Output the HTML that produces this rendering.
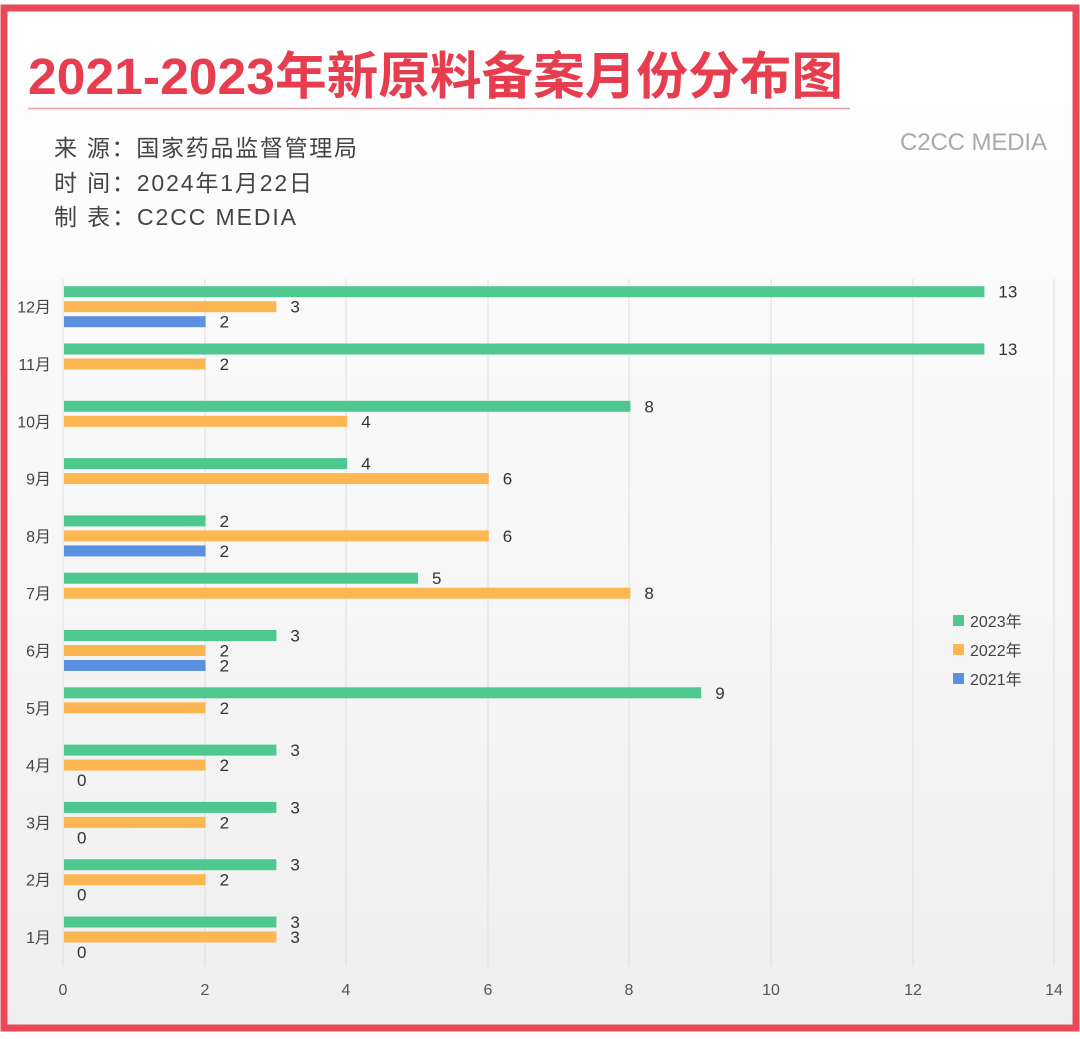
<!DOCTYPE html>
<html><head><meta charset="utf-8"><style>
body{margin:0;width:1080px;height:1039px;background:#fff;overflow:hidden;font-family:"Liberation Sans","Noto Sans CJK SC",sans-serif}
</style></head><body>
<svg width="1080" height="1039" xmlns="http://www.w3.org/2000/svg" style="position:absolute;left:0;top:0">
<defs><linearGradient id="g" x1="0" y1="0" x2="0" y2="1"><stop offset="0" stop-color="#ffffff"/><stop offset="1" stop-color="#efefef"/></linearGradient></defs>
<rect x="4" y="8" width="1072" height="1020" fill="url(#g)" stroke="#e84857" stroke-width="7"/>
<text x="28" y="94" font-size="51" font-weight="bold" fill="#e63e4f" textLength="815" lengthAdjust="spacingAndGlyphs">2021-2023年新原料备案月份分布图</text>
<line x1="28" y1="108.5" x2="850" y2="108.5" stroke="#e9a0a8" stroke-width="1.5"/>
<g font-size="23" fill="#444">
<text x="54" y="156" textLength="303">来  源：国家药品监督管理局</text>
<text x="54" y="191" textLength="258">时  间：2024年1月22日</text>
<text x="54" y="225" textLength="242">制  表：C2CC  MEDIA</text>
</g>
<text x="900" y="150" font-size="24" fill="#aaa" textLength="147">C2CC MEDIA</text>
<g stroke="#dedede" stroke-width="1">
<line x1="63" y1="279" x2="63" y2="966"/><line x1="205" y1="279" x2="205" y2="966"/><line x1="346" y1="279" x2="346" y2="966"/><line x1="488" y1="279" x2="488" y2="966"/><line x1="629" y1="279" x2="629" y2="966"/><line x1="771" y1="279" x2="771" y2="966"/><line x1="913" y1="279" x2="913" y2="966"/><line x1="1054" y1="279" x2="1054" y2="966"/>
</g>
<g font-size="16" fill="#555" text-anchor="middle">
<text x="63" y="995">0</text><text x="205" y="995">2</text><text x="346" y="995">4</text><text x="488" y="995">6</text><text x="629" y="995">8</text><text x="771" y="995">10</text><text x="913" y="995">12</text><text x="1054" y="995">14</text>
</g>
<g id="bars" font-size="17" fill="#333"></g>
<g font-size="16" fill="#444">
<rect x="953" y="615" width="11" height="11" fill="#4fc88f"/><text x="970" y="627">2023年</text>
<rect x="953" y="644" width="11" height="11" fill="#fdb752"/><text x="970" y="656">2022年</text>
<rect x="953" y="673" width="11" height="11" fill="#5b8fe0"/><text x="970" y="685">2021年</text>
</g>
</svg>
<script>
var d=[[3,3,0],[3,2,0],[3,2,0],[3,2,0],[9,2,null],[3,2,2],[5,8,null],[2,6,2],[4,6,null],[8,4,null],[13,2,null],[13,3,2]];
var c=["#4fc88f","#fdb752","#5b8fe0"],s="",u=70.8;
for(var m=0;m<12;m++){var cy=937-m*57.3;
s+='<text x="51" y="'+(cy+6)+'" font-size="16" fill="#444" text-anchor="end">'+(m+1)+'月</text>';
for(var k=0;k<3;k++){var v=d[m][k];if(v===null)continue;var y=cy-15+k*15;
if(v>0)s+='<rect x="64" y="'+(y-5.5)+'" width="'+(v*u)+'" height="11" fill="'+c[k]+'"/>';
s+='<text x="'+(63+v*u+(v>0?15:14))+'" y="'+(y+6)+'">'+v+'</text>';}}
document.getElementById("bars").innerHTML=s;
</script>
</body></html>
